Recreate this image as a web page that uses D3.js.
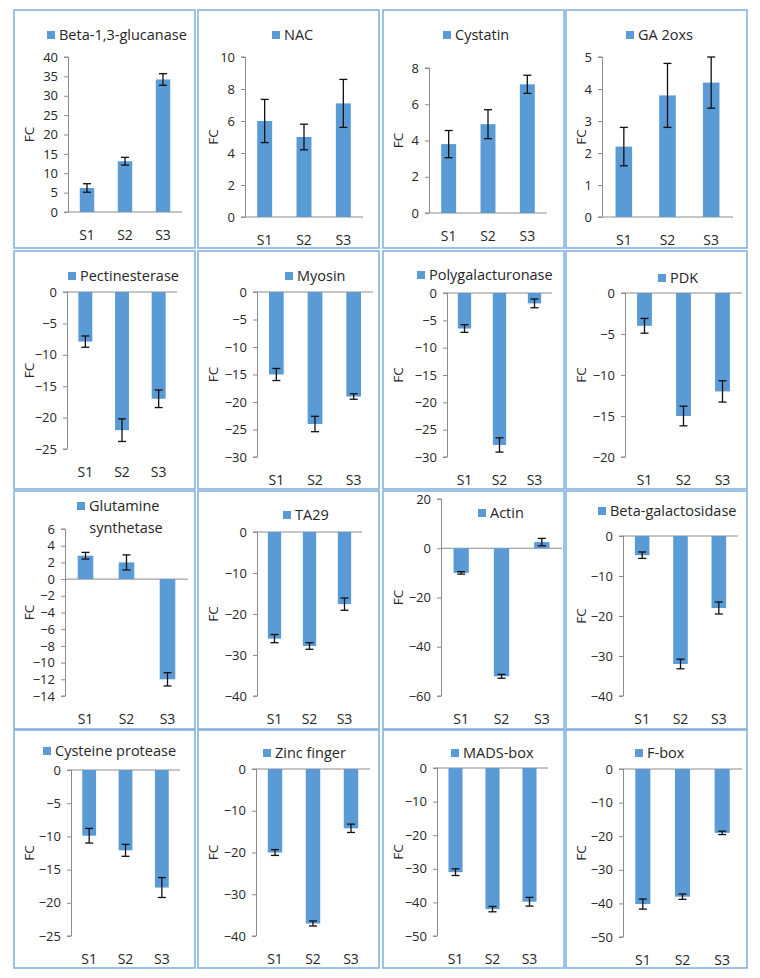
<!DOCTYPE html>
<html>
<head>
<meta charset="utf-8">
<script src="https://cdn.jsdelivr.net/npm/d3@7/dist/d3.min.js"></script>
<style>
  html, body { margin: 0; padding: 0; background: #fff; }
  svg { display: block; }
  text { font-family: "Open Sans", Lato, sans-serif; fill: #262626; }
</style>
</head>
<body>
<svg id="chart" width="760" height="978"></svg>
<script>
// ---------- DATA ----------
const categories = ["S1", "S2", "S3"];
const genes = [
  "Beta-1,3-glucanase", "NAC", "Cystatin", "GA 2oxs",
  "Pectinesterase", "Myosin", "Polygalacturonase", "PDK",
  "Glutamine synthetase", "TA29", "Actin", "Beta-galactosidase",
  "Cysteine protease", "Zinc finger", "MADS-box", "F-box"
];
const foldChange = [
  [6.2, 13.1, 34.2], [6.0, 5.0, 7.1], [3.8, 4.9, 7.1], [2.2, 3.8, 4.2],
  [-7.9, -22.0, -17.0], [-15.0, -24.0, -19.0], [-6.5, -27.8, -1.9], [-4.0, -15.0, -12.0],
  [2.8, 2.0, -12.0], [-26.0, -27.8, -17.6], [-10.0, -52.0, 2.5], [-4.8, -32.0, -18.0],
  [-9.9, -12.1, -17.7], [-20.0, -37.0, -14.2], [-31.0, -42.0, -39.8], [-40.2, -38.0, -19.0]
];
const errorBars = [
  [1.1, 1.0, 1.5], [1.35, 0.8, 1.5], [0.75, 0.8, 0.5], [0.6, 1.0, 0.8],
  [0.9, 1.8, 1.4], [1.1, 1.4, 0.5], [0.7, 1.3, 0.8], [0.9, 1.2, 1.3],
  [0.4, 0.9, 0.8], [1.0, 0.8, 1.5], [0.5, 0.8, 1.5], [0.8, 1.2, 1.5],
  [1.1, 0.9, 1.5], [0.7, 0.6, 1.0], [1.0, 0.8, 1.3], [1.5, 0.8, 0.5]
];
const axisMin  = [0, 0, 0, 0, -25, -30, -30, -20, -14, -40, -60, -40, -25, -40, -50, -50];
const axisMax  = [40, 10, 8, 5, 0, 0, 0, 0, 6, 0, 20, 0, 0, 0, 0, 0];
const axisStep = [5, 2, 2, 1, 5, 5, 5, 5, 2, 10, 20, 10, 5, 10, 10, 10];
const yLabel = "FC";

// ---------- LAYOUT (pixels, per panel) ----------
const colX = [14, 198, 383, 566];
const rowY = [10, 251, 491, 730];
const panelW = 181, panelH = 238;
// [axis x, plot top, plot bottom, axis right, legend y, legend square x]
const layout = [
  [54, 47, 202, 168, 25, 33], [47, 47, 207, 165, 25, 74], [46, 58, 203, 164, 25, 60], [36, 47, 207, 167, 25, 60],
  [53, 41, 198, 163, 25, 54], [59, 41, 206, 175, 25, 87], [64, 42, 206, 169, 24, 34], [59, 42, 206, 176, 27, 92],
  [51, 38, 205, 174, 15, 63], [59, 41, 205, 164, 24, 85], [58, 8, 205, 179, 22, 95], [57, 45, 205, 172, 20, 32],
  [57, 40, 206, 166, 21, 29], [58, 39, 206, 172, 23, 65], [54, 38, 206, 165, 23, 68], [57, 39, 207, 176, 23, 69]
];

const barColor = "#5b9bd5";
const borderColor = "#7eaedc";
const axisColor = "#8c8c8c";
const fontFamily = "'Open Sans', Lato, sans-serif";

const svg = d3.select("#chart");

genes.forEach((gene, i) => {
  const col = i % 4, row = Math.floor(i / 4);
  const [ax, top, bot, right, legY, legX] = layout[i];
  const g = svg.append("g").attr("transform", `translate(${colX[col]},${rowY[row]})`);

  g.append("rect")
    .attr("x", 0).attr("y", 0).attr("width", panelW).attr("height", panelH)
    .attr("fill", "#fff").attr("stroke", borderColor).attr("stroke-width", 1.5);

  const x = d3.scaleBand().domain(categories).range([ax, right])
    .paddingInner(0.62).paddingOuter(0.31);
  const y = d3.scaleLinear().domain([axisMin[i], axisMax[i]]).range([bot, top]);
  const ticks = d3.range(axisMin[i], axisMax[i] + axisStep[i] / 2, axisStep[i]);

  // y axis
  const yAxis = d3.axisLeft(y).tickValues(ticks).tickSize(4).tickPadding(6)
    .tickFormat(d3.format("d"));
  const ya = g.append("g").attr("transform", `translate(${ax},0)`).call(yAxis);
  ya.select(".domain").attr("stroke", axisColor).attr("d", `M-4,${y(axisMax[i])}H0.5V${y(axisMin[i])}H-4`);
  ya.selectAll(".tick line").attr("stroke", axisColor);
  ya.selectAll(".tick text").style("font-size", "13px").attr("fill", "#262626")
    .style("font-family", fontFamily);

  // zero (category) axis line
  g.append("line")
    .attr("x1", ax).attr("x2", right)
    .attr("y1", y(0)).attr("y2", y(0))
    .attr("stroke", axisColor).attr("stroke-width", 1);

  // bars
  g.selectAll("rect.bar").data(foldChange[i]).enter().append("rect")
    .attr("class", "bar")
    .attr("x", (d, j) => x(categories[j]))
    .attr("width", x.bandwidth())
    .attr("y", d => Math.min(y(d), y(0)))
    .attr("height", d => Math.abs(y(d) - y(0)))
    .attr("fill", barColor);

  // error bars
  const cap = 4;
  foldChange[i].forEach((v, j) => {
    const cx = x(categories[j]) + x.bandwidth() / 2;
    const e = errorBars[i][j];
    const y1 = y(v + e), y2 = y(v - e);
    const eg = g.append("g").attr("stroke", "#111").attr("stroke-width", 1.3);
    eg.append("line").attr("x1", cx).attr("x2", cx).attr("y1", y1).attr("y2", y2);
    eg.append("line").attr("x1", cx - cap).attr("x2", cx + cap).attr("y1", y1).attr("y2", y1);
    eg.append("line").attr("x1", cx - cap).attr("x2", cx + cap).attr("y1", y2).attr("y2", y2);
  });

  // category labels
  g.selectAll("text.cat").data(categories).enter().append("text")
    .attr("class", "cat")
    .attr("x", d => x(d) + x.bandwidth() / 2)
    .attr("y", bot + 28)
    .attr("text-anchor", "middle")
    .style("font-size", "14px")
    .text(d => d);

  // y label
  g.append("text")
    .attr("transform", `translate(${20},${(top + bot) / 2}) rotate(-90)`)
    .attr("text-anchor", "middle")
    .style("font-size", "13.5px")
    .text(yLabel);

  // legend
  g.append("rect")
    .attr("x", legX).attr("y", legY - 4).attr("width", 8).attr("height", 8)
    .attr("fill", barColor);
  const words = gene.split(" ");
  if (gene === "Glutamine synthetase") {
    g.append("text").attr("x", legX + 12).attr("y", legY + 5).style("font-size", "14.5px").text(words[0]);
    g.append("text").attr("x", legX + 49).attr("y", legY + 27).attr("text-anchor", "middle")
      .style("font-size", "14.5px").text(words[1]);
  } else {
    g.append("text").attr("x", legX + 12).attr("y", legY + 5).style("font-size", "14.5px").text(gene);
  }
});
</script>
</body>
</html>
